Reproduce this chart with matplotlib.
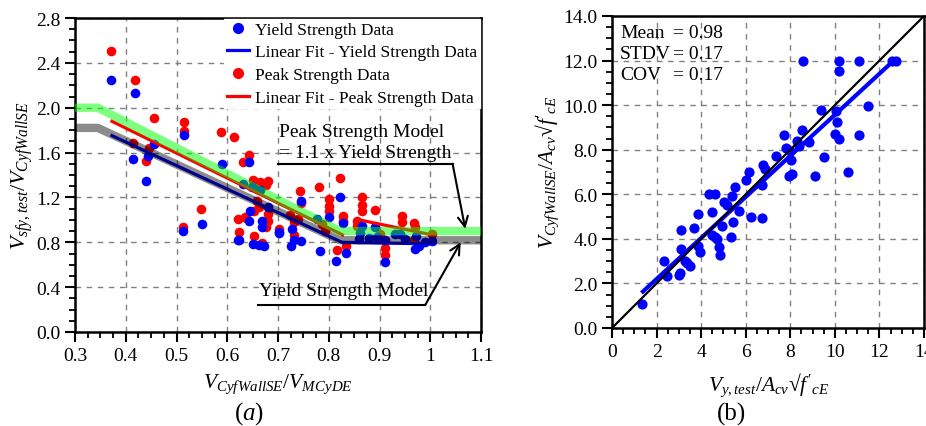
import matplotlib
matplotlib.use("Agg")
import matplotlib.pyplot as plt
import numpy as np
from matplotlib.ticker import MultipleLocator, FixedLocator
from matplotlib.lines import Line2D

plt.rcParams['font.family'] = ['Liberation Serif', 'DejaVu Serif']
plt.rcParams['mathtext.fontset'] = 'custom'
plt.rcParams['mathtext.rm'] = 'Liberation Serif'
plt.rcParams['mathtext.it'] = 'Liberation Serif:italic'
plt.rcParams['mathtext.bf'] = 'Liberation Serif:bold'

# ---------------- data (a) ----------------
yield_x = [0.37, 0.419, 0.414, 0.443, 0.455, 0.439, 0.514, 0.589, 0.643, 0.632, 0.649, 0.664,
           0.645, 0.68, 0.642, 0.668, 0.669, 0.701, 0.623, 0.65, 0.662, 0.673, 0.746, 0.727,
           0.726, 0.746, 0.783, 0.777, 0.512, 0.55, 0.731, 0.701, 0.823, 0.801, 0.829, 0.865,
           0.892, 0.895, 0.814, 0.834, 0.911, 0.910, 0.969, 0.971, 0.941, 1.004, 0.977, 0.862,
           0.88, 0.93, 0.95, 0.99, 0.86, 0.622]
yield_y = [2.25, 2.13, 1.543, 1.573, 1.674, 1.35, 1.757, 1.499, 1.514, 1.32, 1.296, 1.27,
           1.082, 1.112, 0.987, 0.993, 0.934, 0.889, 0.82, 0.785, 0.779, 0.77, 1.17, 0.918,
           0.77, 0.809, 0.72, 1.008, 0.898, 0.963, 0.823, 0.88, 1.207, 1.023, 0.975, 0.948,
           0.934, 0.845, 0.636, 0.702, 0.622, 0.82, 0.74, 0.859, 0.874, 0.809, 0.77, 0.88,
           0.84, 0.87, 0.83, 0.80, 0.83, 0.823]
peak_x = [0.37, 0.419, 0.455, 0.514, 0.514, 0.414, 0.445, 0.439, 0.588, 0.614, 0.643, 0.631,
          0.65, 0.665, 0.68, 0.676, 0.658, 0.658, 0.662, 0.652, 0.681, 0.635, 0.622, 0.681,
          0.676, 0.701, 0.623, 0.652, 0.668, 0.744, 0.746, 0.78, 0.724, 0.731, 0.731, 0.739,
          0.786, 0.793, 0.512, 0.549, 0.637, 0.823, 0.80, 0.80, 0.80, 0.829, 0.829, 0.865,
          0.865, 0.866, 0.892, 0.856, 0.855, 0.944, 0.944, 0.967, 0.97, 0.816, 0.834, 0.91,
          0.91, 0.967, 1.004, 0.90]
peak_y = [2.504, 2.25, 1.91, 1.876, 1.79, 1.686, 1.641, 1.523, 1.78, 1.737, 1.579, 1.514,
          1.356, 1.335, 1.35, 1.314, 1.276, 1.171, 1.112, 1.082, 1.052, 1.023, 1.008, 0.987,
          0.939, 0.918, 0.889, 0.859, 0.791, 1.255, 1.148, 1.296, 1.04, 0.978, 0.868, 1.008,
          0.963, 0.903, 0.939, 1.097, 1.014, 1.373, 1.186, 1.126, 1.082, 1.037, 0.993, 1.201,
          1.135, 1.082, 1.091, 0.993, 0.948, 1.037, 0.978, 0.969, 0.934, 0.731, 0.77, 0.749,
          0.689, 0.82, 0.874, 0.87]

yield_fit_x = [0.37, 0.826, 1.01]
yield_fit_y = [1.757, 0.80, 0.785]
peak_fit1_x = [0.37, 0.83]
peak_fit1_y = [1.885, 0.86]
peak_fit2_x = [0.86, 1.01]
peak_fit2_y = [1.0, 0.86]

peak_model_x = [0.3, 0.345, 0.822, 1.1]
peak_model_y = [2.0, 2.0, 0.9, 0.9]
yield_model_x = [0.3, 0.345, 0.822, 1.1]
yield_model_y = [1.82, 1.82, 0.818, 0.818]

xticks_a = [0.3, 0.4, 0.5, 0.6, 0.7, 0.8, 0.9, 1.0, 1.1]
xticklabels_a = ['0.3', '0.4', '0.5', '0.6', '0.7', '0.8', '0.9', '1', '1.1']
yticks_a = [0.0, 0.4, 0.8, 1.2, 1.6, 2.0, 2.4, 2.8]

# ---------------- data (b) ----------------
test_x = [1.35, 2.35, 2.47, 2.99, 3.07, 3.29, 3.36, 3.51, 3.10, 3.10, 3.66, 3.84, 3.86, 3.94,
          4.34, 4.61, 4.49, 4.49, 4.63, 4.71, 4.81, 4.86, 4.94, 5.01, 5.16, 5.34, 5.41, 5.38,
          5.5, 5.71, 6.01, 6.13, 6.25, 6.73, 6.73, 6.76, 6.85, 7.36, 7.70, 7.81, 7.93, 8.0,
          8.04, 8.08, 8.30, 8.38, 8.53, 8.57, 8.82, 9.09, 9.36, 9.5, 9.99, 10.05, 10.1, 10.2,
          10.2, 10.2, 10.59, 11.07, 11.1, 11.49, 12.56, 12.74]
model_y = [1.08, 3.02, 2.35, 2.38, 2.47, 3.02, 2.92, 2.80, 3.54, 4.40, 4.49, 5.12, 3.69, 3.43,
           6.01, 6.01, 5.19, 4.17, 4.07, 4.0, 3.65, 3.28, 4.56, 5.67, 5.52, 4.07, 4.77, 5.94,
           6.34, 5.24, 6.64, 7.01, 4.97, 4.94, 6.42, 7.31, 7.13, 7.7, 8.66, 8.06, 6.8, 7.96,
           7.55, 6.91, 8.40, 8.18, 8.90, 12.0, 8.36, 6.83, 9.78, 7.66, 8.70, 9.75, 9.23, 8.48,
           12.0, 11.52, 6.98, 12.0, 8.66, 9.97, 12.0, 12.0]
fit_b_x = [1.32, 12.64]
fit_b_y = [1.57, 12.0]
one_to_one = [0, 14]
stats_names = ['Mean', 'STDV', 'COV']
stats_vals = ['= 0.98', '= 0.17', '= 0.17']

# ---------------- figure ----------------
W, H = 926, 427
fig = plt.figure(figsize=(W / 100, H / 100), dpi=100)

def box(l, r, t, b):
    return [l / W, 1 - b / H, (r - l) / W, (b - t) / H]

ax1 = fig.add_axes(box(75, 481, 19, 333))
ax2 = fig.add_axes(box(612, 924, 17, 329))

grid_kw = dict(color='#808080', linestyle=(0, (4, 4)), linewidth=1.0)

def style(ax):
    for s in ax.spines.values():
        s.set_linewidth(1.8)
    ax.tick_params(which='major', direction='out', length=7, width=1.5, labelsize=14,
                   top=False, right=False)
    ax.tick_params(which='minor', direction='out', length=4, width=1.3, top=False, right=False)
    ax.grid(True, which='major', **grid_kw)
    ax.set_axisbelow(True)

# ---- panel (a)
ax = ax1
ax.set_xlim(0.3, 1.1)
ax.set_ylim(0.0, 2.8)
ax.xaxis.set_major_locator(FixedLocator(xticks_a))
ax.set_xticklabels(xticklabels_a)
ax.xaxis.set_minor_locator(MultipleLocator(0.025))
ax.yaxis.set_major_locator(FixedLocator(yticks_a))
ax.set_yticklabels([f'{v:.1f}' for v in yticks_a])
ax.yaxis.set_minor_locator(MultipleLocator(0.1))
style(ax)

ms = 48
ax.scatter(peak_x, peak_y, s=ms, color='#ff0000', zorder=3, linewidths=0)
ax.scatter(yield_x, yield_y, s=ms, color='#0000ff', zorder=3, linewidths=0)
ax.plot(yield_fit_x, yield_fit_y, color='#0000ff', lw=2.3, zorder=4, solid_capstyle='butt')
ax.plot(peak_fit1_x, peak_fit1_y, color='#ff0000', lw=2.3, zorder=4, solid_capstyle='butt')
ax.plot(peak_fit2_x, peak_fit2_y, color='#ff0000', lw=2.3, zorder=4, solid_capstyle='butt')
ax.plot(yield_model_x, yield_model_y, color='black', alpha=0.45, lw=6, zorder=5,
        solid_capstyle='butt')
ax.plot(peak_model_x, peak_model_y, color='#00ff00', alpha=0.5, lw=6, zorder=5,
        solid_capstyle='butt')

# legend
handles = [Line2D([], [], marker='o', ls='none', color='#0000ff', markersize=7),
           Line2D([], [], color='#0000ff', lw=2.3),
           Line2D([], [], marker='o', ls='none', color='#ff0000', markersize=7),
           Line2D([], [], color='#ff0000', lw=2.3)]
labels = ['Yield Strength Data', 'Linear Fit - Yield Strength Data',
          'Peak Strength Data', 'Linear Fit - Peak Strength Data']
leg = ax.legend(handles, labels, loc='upper right', fontsize=12.5, frameon=True,
                fancybox=False, framealpha=1, edgecolor='white', borderpad=0.15,
                handlelength=1.3, handletextpad=0.35, labelspacing=0.38,
                borderaxespad=0.05)
leg.set_zorder(10)

# annotations
ax.text(0.702, 1.79, 'Peak Strength Model', fontsize=14, va='center', ha='left', zorder=6)
ax.text(0.702, 1.605, '= 1.1 x Yield Strength', fontsize=14, va='center', ha='left', zorder=6)
ax.plot([0.70, 1.044], [1.5, 1.5], color='black', lw=1.5, zorder=6)
ax.annotate('', xy=(1.069, 0.92), xytext=(1.044, 1.5),
            arrowprops=dict(arrowstyle='->', lw=1.5, color='black',
                            shrinkA=0, shrinkB=0, mutation_scale=18), zorder=6)
ax.text(0.663, 0.368, 'Yield Strength Model', fontsize=14, va='center', ha='left', zorder=6)
ax.plot([0.661, 0.99], [0.24, 0.24], color='black', lw=1.5, zorder=6)
ax.annotate('', xy=(1.06, 0.80), xytext=(0.99, 0.24),
            arrowprops=dict(arrowstyle='->', lw=1.5, color='black',
                            shrinkA=0, shrinkB=0, mutation_scale=18), zorder=6)

# ---- panel (b)
ax = ax2
ax.set_xlim(0, 14)
ax.set_ylim(0, 14)
ax.xaxis.set_major_locator(MultipleLocator(2))
ax.xaxis.set_minor_locator(MultipleLocator(0.5))
ax.yaxis.set_major_locator(MultipleLocator(2))
ax.yaxis.set_minor_locator(MultipleLocator(0.5))
ax.yaxis.set_major_formatter(plt.FuncFormatter(lambda v, p: f'{v:.1f}'))
ax.xaxis.set_major_formatter(plt.FuncFormatter(lambda v, p: f'{v:.0f}'))
style(ax)
ax.scatter(test_x, model_y, s=54, color='#0000ff', zorder=3, linewidths=0)
ax.plot(fit_b_x, fit_b_y, color='#0000ff', lw=3, zorder=4, solid_capstyle='butt')
ax.plot(one_to_one, one_to_one, color='black', lw=1.6, zorder=5)
for i, (n, v) in enumerate(zip(stats_names, stats_vals)):
    yy = 33 + i * 21.5
    fig.text(620 / W, 1 - yy / H, n, fontsize=14, va='center', ha='left')
    fig.text(673 / W, 1 - yy / H, v, fontsize=14, va='center', ha='left')

# ---- axis labels / captions
fig.text(278 / W, 1 - 384 / H, r'$V_{CyfWallSE}/V_{MCyDE}$', fontsize=15.5,
         ha='center', va='center')
fig.text(22 / W, 1 - 176 / H, r'$V_{sfy,test}/V_{CyfWallSE}$', fontsize=16,
         ha='center', va='center', rotation=90)
fig.text(249 / W, 1 - 414 / H, r'$(a)$', fontsize=18, ha='center', va='center')
fig.text(768 / W, 1 - 385 / H, r"$V_{y,test}/A_{cv}$" + "\u221a" + r"$f'_{cE}$",
         fontsize=15.5, ha='center', va='center')
fig.text(547 / W, 1 - 172 / H, r"$V_{CyfWallSE}/A_{cv}$" + "\u221a" + r"$f'_{cE}$",
         fontsize=15.5, ha='center', va='center', rotation=90)
fig.text(732 / W, 1 - 414 / H, '(b)', fontsize=18, ha='center', va='center')

fig.savefig('out.png', dpi=100)
